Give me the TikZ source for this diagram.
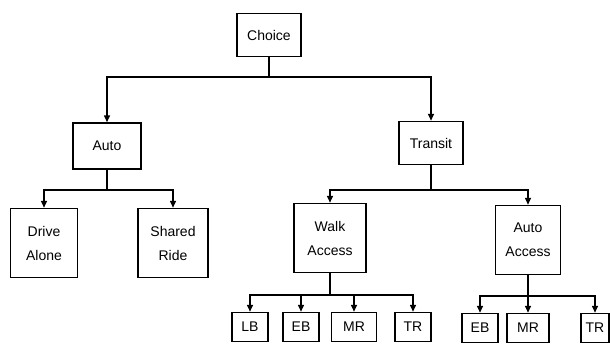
\documentclass[tikz,border=0pt]{standalone}
\usepackage{fontspec}
\setmainfont{Liberation Sans}
\usepackage{tikz}
\usetikzlibrary{positioning, arrows.meta}

\begin{document}
\begin{tikzpicture}[x=1pt, y=-1pt, line width=1.5pt,
    every node/.style={font=\fontsize{14}{24}\selectfont, draw, align=center, inner sep=3pt},
    mode/.style={minimum width=64pt, minimum height=43pt},
    sub/.style={minimum width=67pt, minimum height=69pt},
    leaf/.style={minimum width=36pt, minimum height=29pt},
    arr/.style={-{Triangle[length=7pt, width=6pt]}}]
  \useasboundingbox (0,0) rectangle (610,343);
  \node[mode] (choice) at (269,35) {Choice};
  \node[mode, minimum width=68pt, minimum height=46pt] (auto) at (107,146) {Auto};
  \node[mode] (transit) at (431,143) {Transit};
  \node[sub] (da) at (44,243) {Drive\\Alone};
  \node[sub, minimum width=70pt] (sr) at (173,243) {Shared\\Ride};
  \node[sub, minimum width=72pt] (wa) at (330,238) {Walk\\Access};
  \node[sub, minimum width=65pt] (aa) at (528,240) {Auto\\Access};
  \node[leaf] (lb) at (250,327) {LB};
  \node[leaf] (eb1) at (301,327) {EB};
  \node[leaf, minimum width=45pt] (mr1) at (354,327) {MR};
  \node[leaf] (tr1) at (413,327) {TR};
  \node[leaf] (eb2) at (480,328) {EB};
  \node[leaf, minimum width=42pt] (mr2) at (528,328) {MR};
  \node[leaf, minimum width=28pt] (tr2) at (595,328) {TR};
  % buses
  \coordinate (b0) at (269,77);
  \coordinate (b1) at (107,190);
  \coordinate (b2) at (431,190);
  \coordinate (b3) at (330,295);
  \coordinate (b4) at (528,296);
  \draw (choice) -- (b0);
  \draw[arr] (b0) -| (auto);
  \draw[arr] (b0) -| (transit);
  \draw (auto) -- (b1);
  \draw[arr] (b1) -| (da);
  \draw[arr] (b1) -| (sr);
  \draw (transit) -- (b2);
  \draw[arr] (b2) -| (wa);
  \draw[arr] (b2) -| (aa);
  \draw (wa) -- (b3);
  \foreach \n in {lb, eb1, mr1, tr1} \draw[arr] (b3) -| (\n);
  \draw (aa) -- (b4);
  \foreach \n in {eb2, mr2, tr2} \draw[arr] (b4) -| (\n);
\end{tikzpicture}
\end{document}
